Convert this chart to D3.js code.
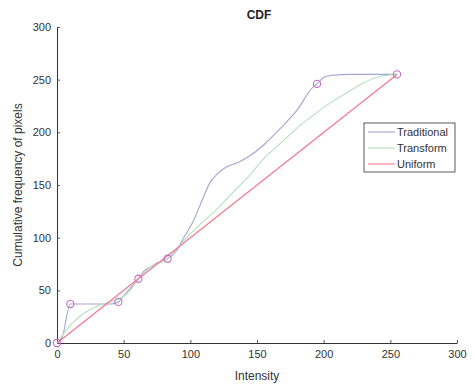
<!DOCTYPE html>
<html>
<head>
<meta charset="utf-8">
<script src="https://cdn.jsdelivr.net/npm/d3@7"></script>
<style>
  body { margin: 0; background: #fff; }
  text { font-family: "Liberation Sans", Arial, sans-serif; fill: #333; }
</style>
</head>
<body>
<div id="vis"></div>
<script>
const WIDTH = 475;
const HEIGHT = 390;

// data ---------------------------------------------------------------
const TICKS = [0, 50, 100, 150, 200, 250, 300];
const SERIES = ["Traditional", "Transform", "Uniform"];
const COLORS = ["#a2a6d0", "#b6dfbe", "#f27a92"];

const traditional = [
  [0, 0], [4, 6], [10, 37], [20, 37], [30, 37], [40, 37], [46, 39], [50, 45], [55, 52],
  [61, 61], [65, 68], [70, 72], [75, 76], [83, 80], [90, 88], [95, 100],
  [102, 115], [109, 136], [115, 153], [120, 160], [127, 167], [135, 171],
  [145, 178], [155, 188], [167, 203], [180, 221], [192, 243], [195, 246],
  [200, 252], [205, 254], [220, 255], [240, 255], [255, 255]
];
const transform = [
  [0, 0], [10, 17], [20, 28], [30, 35], [37, 38], [45, 41], [55, 50], [61, 61],
  [70, 72], [83, 80], [95, 97], [105, 110], [120, 127], [132, 143], [145, 160],
  [155, 175], [168, 190], [180, 204], [193, 217], [205, 228], [218, 238],
  [230, 247], [242, 253], [255, 255]
];
const uniform = [[0, 0], [255, 255]];
const markers = [[0, 0], [10, 37], [46, 39], [61, 61], [83, 80], [195, 246], [255, 255]];

// chart --------------------------------------------------------------
const SVG = d3.select("#vis").append("svg")
    .attr("width", WIDTH).attr("height", HEIGHT);

const x = d3.scaleLinear().domain([0, 300]).range([57, 457]);
const y = d3.scaleLinear().domain([0, 300]).range([343, 27]);

const xAxis = SVG.append("g")
    .attr("transform", `translate(0,${y(0)})`)
    .call(d3.axisBottom(x).tickValues(TICKS).tickSizeInner(-3).tickSizeOuter(0).tickPadding(7));
const yAxis = SVG.append("g")
    .attr("transform", `translate(${x(0)},0)`)
    .call(d3.axisLeft(y).tickValues(TICKS).tickSizeInner(-3).tickSizeOuter(0).tickPadding(6));

[xAxis, yAxis].forEach(g => {
  g.select(".domain").attr("stroke", "#333");
  g.selectAll(".tick line").attr("stroke", "#555");
  g.selectAll(".tick text").attr("font-size", 11).attr("fill", "#333");
});

const line = d3.line().x(d => x(d[0])).y(d => y(d[1])).curve(d3.curveMonotoneX);

[traditional, transform, uniform].forEach((s, i) => {
  SVG.append("path")
      .datum(s)
      .attr("fill", "none")
      .attr("stroke", COLORS[i])
      .attr("stroke-width", i === 2 ? 1.3 : 1.1)
      .attr("d", line);
});

SVG.append("g").selectAll("circle")
    .data(markers)
    .join("circle")
    .attr("cx", d => x(d[0]))
    .attr("cy", d => y(d[1]))
    .attr("r", 3.6)
    .attr("fill", "none")
    .attr("stroke", "#c26ec4")
    .attr("stroke-width", 1.1);

// titles
SVG.append("text")
    .attr("x", 259).attr("y", 19)
    .attr("text-anchor", "middle")
    .attr("font-size", 12).attr("font-weight", "bold")
    .style("fill", "#222")
    .text("CDF");

SVG.append("text")
    .attr("x", 257).attr("y", 380)
    .attr("text-anchor", "middle")
    .attr("font-size", 12)
    .text("Intensity");

SVG.append("text")
    .attr("transform", `translate(22,${(y(0) + y(300)) / 2}) rotate(-90)`)
    .attr("text-anchor", "middle")
    .attr("font-size", 12)
    .text("Cumulative frequency of pixels");

// legend
const legend = SVG.append("g");
legend.append("rect")
    .attr("x", 364).attr("y", 123).attr("width", 91).attr("height", 49)
    .attr("fill", "#fff").attr("stroke", "#333").attr("stroke-width", 0.8);

SERIES.forEach((name, i) => {
  const ly = 132 + i * 16;
  legend.append("line")
      .attr("x1", 368).attr("x2", 395).attr("y1", ly).attr("y2", ly)
      .attr("stroke", COLORS[i]).attr("stroke-width", 1.1);
  legend.append("text")
      .attr("x", 397).attr("y", ly + 4)
      .attr("font-size", 11)
      .text(name);
});
</script>
</body>
</html>
